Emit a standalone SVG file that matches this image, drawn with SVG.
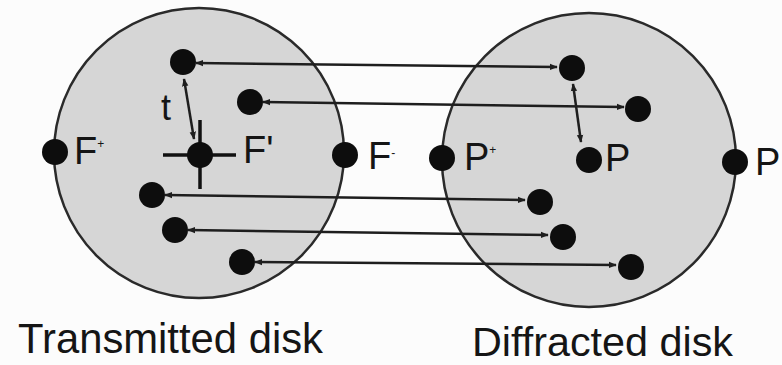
<svg xmlns="http://www.w3.org/2000/svg" width="782" height="365" viewBox="0 0 782 365">
<defs>
<style>
.disk{fill:#d6d6d6;stroke:#2a2a2a;stroke-width:2.5}
.dot{fill:#0d0d0d}
.conn{stroke:#1e1e1e;stroke-width:2.5;fill:none;marker-start:url(#ah);marker-end:url(#ah)}
.cross{stroke:#111;stroke-width:3.5}
.lbl{font-family:"Liberation Sans",Arial,sans-serif;fill:#151515}
.sup{font-size:12px}
</style>
<marker id="ah" viewBox="0 0 10 10" refX="9" refY="5" markerWidth="3.2" markerHeight="3.2" orient="auto-start-reverse" markerUnits="strokeWidth">
<path d="M0,1 L10,5 L0,9 Z" fill="#1e1e1e"/>
</marker>
</defs>
<rect width="782" height="365" fill="#fcfcfc"/>
<g id="transmitted-disk">
<circle class="disk" cx="199" cy="153" r="145"/>
<text class="lbl" x="18" y="353" font-size="42" textLength="305" lengthAdjust="spacingAndGlyphs">Transmitted disk</text>
</g>
<g id="diffracted-disk">
<circle class="disk" cx="589" cy="160" r="147"/>
<text class="lbl" x="472" y="356" font-size="41" textLength="261" lengthAdjust="spacingAndGlyphs">Diffracted disk</text>
</g>
<g id="connectors">
<line class="conn" x1="196" y1="63" x2="557" y2="67"/>
<line class="conn" x1="263" y1="102" x2="624" y2="107"/>
<line class="conn" x1="165" y1="195" x2="525" y2="200"/>
<line class="conn" x1="188" y1="230" x2="548" y2="235"/>
<line class="conn" x1="255" y1="262" x2="616" y2="265"/>
<line class="conn" x1="184" y1="79" x2="194" y2="139"/>
<line class="conn" x1="573" y1="84" x2="581" y2="142"/>
</g>
<g id="node-Fplus">
<circle class="dot" cx="55" cy="152" r="13"/>
<text class="lbl" x="74" y="164" font-size="38">F<tspan class="sup" dy="-16">+</tspan></text>
</g>
<g id="node-Fminus">
<circle class="dot" cx="345" cy="155" r="13"/>
<text class="lbl" x="368" y="169" font-size="38">F<tspan class="sup" dy="-12">-</tspan></text>
</g>
<g id="node-Fprime">
<line class="cross" x1="163" y1="155" x2="236" y2="155"/>
<line class="cross" x1="200" y1="120" x2="200" y2="189"/>
<circle class="dot" cx="200" cy="155" r="13"/>
<text class="lbl" x="243" y="163" font-size="38">F'</text>
</g>
<g id="node-t">
<text class="lbl" x="161" y="120" font-size="36">t</text>
</g>
<g id="node-L1"><circle class="dot" cx="183" cy="62" r="13"/></g>
<g id="node-L2"><circle class="dot" cx="250" cy="102" r="13"/></g>
<g id="node-L3"><circle class="dot" cx="152" cy="195" r="13"/></g>
<g id="node-L4"><circle class="dot" cx="175" cy="230" r="13"/></g>
<g id="node-L5"><circle class="dot" cx="242" cy="262" r="13"/></g>
<g id="node-R1"><circle class="dot" cx="572" cy="68" r="13"/></g>
<g id="node-R2"><circle class="dot" cx="638" cy="109" r="13"/></g>
<g id="node-R3"><circle class="dot" cx="540" cy="202" r="13"/></g>
<g id="node-R4"><circle class="dot" cx="563" cy="237" r="13"/></g>
<g id="node-R5"><circle class="dot" cx="631" cy="267" r="13"/></g>
<g id="node-Pplus">
<circle class="dot" cx="442" cy="158" r="13"/>
<text class="lbl" x="464" y="170" font-size="38">P<tspan class="sup" dy="-16">+</tspan></text>
</g>
<g id="node-P">
<circle class="dot" cx="589" cy="160" r="13"/>
<text class="lbl" x="605" y="171" font-size="38">P</text>
</g>
<g id="node-Pright">
<circle class="dot" cx="735" cy="162" r="13"/>
<text class="lbl" x="755" y="175" font-size="38">P</text>
</g>
</svg>
